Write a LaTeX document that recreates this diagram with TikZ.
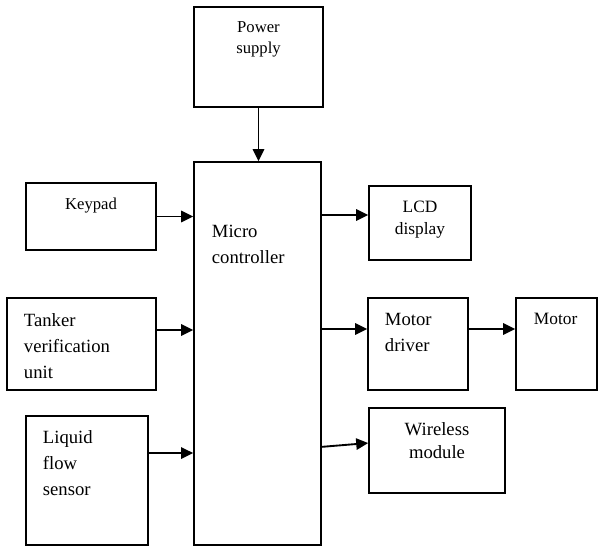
\documentclass[tikz,border=0pt]{standalone}
\usepackage{fontspec}
\setmainfont{Liberation Serif}
\usepackage{tikz}
\usetikzlibrary{arrows.meta}
\tikzstyle{block} = [rectangle, draw, fill=white, line width=1.2pt, inner sep=0pt]
\tikzstyle{bigtext} = [inner sep=0pt, align=left, font=\fontsize{14}{19.5}\selectfont]
\tikzstyle{smalltext} = [inner sep=0pt, align=center, font=\fontsize{12.5}{15.75}\selectfont]

\begin{document}
\begin{tikzpicture}[->,>={Triangle[length=9pt,width=8.5pt]},line width=1.4pt,x=0.75pt,y=-0.75pt]
  \useasboundingbox (0,0) rectangle (598,547);
  \node[block, minimum width=96.75pt, minimum height=75pt] (Power) at (258.5,57) {};
  \node[block, minimum width=95.25pt, minimum height=287.25pt] (Micro) at (257.5,353.5) {};
  \node[block, minimum width=97.5pt, minimum height=50.25pt] (Keypad) at (91,216.5) {};
  \node[block, minimum width=111.75pt, minimum height=69pt] (Tanker) at (81.5,344) {};
  \node[block, minimum width=91.5pt, minimum height=96.75pt] (Liquid) at (87,480.5) {};
  \node[block, minimum width=76.5pt, minimum height=55.5pt] (LCD) at (420,223) {};
  \node[block, minimum width=75pt, minimum height=69pt] (Driver) at (418,344) {};
  \node[block, minimum width=60.75pt, minimum height=69pt] (Motor) at (556.5,344) {};
  \node[block, minimum width=102pt, minimum height=63.75pt] (Wireless) at (437,450.5) {};

  \node[smalltext, anchor=north] (Power_txt) at (258.5,20.5) {Power\\supply};
  \node[bigtext, anchor=north west] (Micro_txt) at (211,224) {Micro\\controller};
  \node[smalltext, anchor=north] (Keypad_txt) at (91,196.5) {Keypad};
  \node[bigtext, anchor=north west] (Tanker_txt) at (23,313) {Tanker\\verification\\unit};
  \node[bigtext, anchor=north west] (Liquid_txt) at (42,430) {Liquid\\flow\\sensor};
  \node[smalltext, anchor=north, font=\fontsize{13}{16.5}\selectfont] (LCD_txt) at (420,200) {LCD\\display};
  \node[bigtext, anchor=north west] (Driver_txt) at (384,312) {Motor\\driver};
  \node[smalltext, anchor=north west, font=\fontsize{13}{16.5}\selectfont] (Motor_txt) at (533,312.5) {Motor};
  \node[bigtext, anchor=north, align=center, font=\fontsize{14}{17.25}\selectfont] (Wireless_txt) at (437,422) {Wireless\\module};

  \coordinate (Tanker_out) at ([yshift=10.5pt]Tanker.east);
  \coordinate (Liquid_out) at ([yshift=20.6pt]Liquid.east);
  \coordinate (LCD_in) at ([yshift=6pt]LCD.west);
  \coordinate (Driver_in) at ([yshift=11.25pt]Driver.west);
  \coordinate (Wireless_in) at ([yshift=5.6pt]Wireless.west);
  \coordinate (Micro_out) at ([yshift=-70pt]Micro.east);

  \path (Power.south) edge (Power.south |- Micro.north);
  \path (Keypad.east) edge (Keypad.east -| Micro.west);
  \path (Tanker_out) edge (Tanker_out -| Micro.west);
  \path (Liquid_out) edge (Liquid_out -| Micro.west);
  \path (Micro.east |- LCD_in) edge (LCD_in);
  \path (Micro.east |- Driver_in) edge (Driver_in);
  \path (Driver.east |- Driver_in) edge (Driver_in -| Motor.west);
  \path (Micro_out) edge (Wireless_in);
\end{tikzpicture}
\end{document}
